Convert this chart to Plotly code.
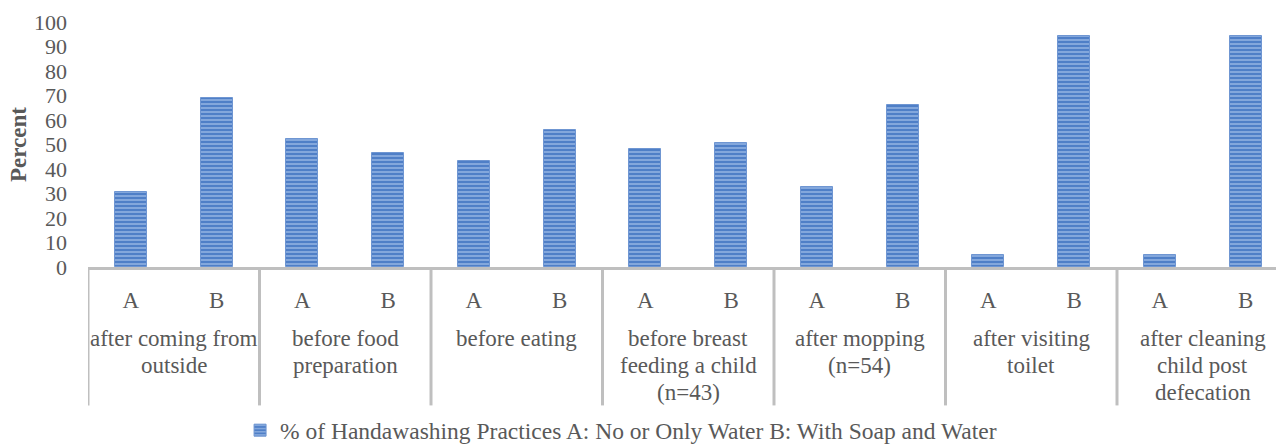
import plotly.graph_objects as go

# Handwashing occasions (outer category level), one entry per text line
occasions = [
    ["after coming from", "outside"],
    ["before food", "preparation"],
    ["before eating"],
    ["before breast", "feeding a child", "(n=43)"],
    ["after mopping", "(n=54)"],
    ["after visiting", "toilet"],
    ["after cleaning", "child post", "defecation"],
]
# Practice codes (inner category level)
practices = ["A", "B"]

# Percent of respondents for each occasion: A (no or only water), B (soap and water)
pct_a = [30.6, 52.3, 43.2, 48.2, 32.6, 5.0, 5.0]
pct_b = [68.9, 46.6, 56.1, 50.8, 66.3, 94.3, 94.3]

y_ticks = list(range(0, 101, 10))
legend_name = "% of Handawashing Practices A: No or Only Water B: With Soap and Water"

FONT = "'Liberation Serif', 'Times New Roman', Times, serif"
TEXT = "#595959"
GRID = "#bfbfbf"

# Interleave A/B values along a categorical index axis
xs, ys, tick_text = [], [], []
for i, (a, b) in enumerate(zip(pct_a, pct_b)):
    for j, v in enumerate((a, b)):
        xs.append(2 * i + j)
        ys.append(v)
        tick_text.append(practices[j])

fig = go.Figure()
fig.add_trace(go.Bar(
    x=xs, y=ys, name=legend_name, width=0.375,
    marker=dict(
        color="#4f7fc7",
        line=dict(color="#6f96d2", width=1),
        pattern=dict(shape="-", fgcolor="#9ab8e6", bgcolor="#4f7fc7",
                     size=4, solidity=0.35, fillmode="replace"),
    ),
    showlegend=True,
))

# Group dividers below the axis line, with the occasion names between them
for i, lines in enumerate(occasions):
    fig.add_shape(type="line", xref="x", yref="paper",
                  x0=2 * i - 0.5, x1=2 * i - 0.5, y0=0, y1=-0.565,
                  line=dict(color=GRID, width=3))
    for k, line in enumerate(lines):
        fig.add_annotation(x=2 * i + 0.5, xref="x", y=-0.29, yref="paper",
                           yanchor="middle", yshift=-27 * k, text=line,
                           showarrow=False, align="center",
                           font=dict(family=FONT, size=23, color=TEXT))

fig.update_layout(
    width=1276, height=446,
    margin=dict(l=88, r=0, t=22, b=179, autoexpand=False),
    paper_bgcolor="white", plot_bgcolor="white",
    font=dict(family=FONT, size=22, color=TEXT),
    bargap=0,
    xaxis=dict(
        range=[-0.5, -0.5 + 1188 / 85.75],
        tickmode="array", tickvals=xs, ticktext=tick_text,
        showline=True, linecolor=GRID, linewidth=3,
        ticks="", showgrid=False, zeroline=False,
        ticklabelstandoff=10,
        tickfont=dict(family=FONT, size=23, color=TEXT),
    ),
    yaxis=dict(
        range=[0, 100], tickvals=y_ticks,
        showgrid=False, zeroline=False, showline=False, ticks="",
        tickfont=dict(family=FONT, size=22, color=TEXT),
        ticklabelstandoff=20,
        title=dict(text="<b>Percent</b>", standoff=0,
                   font=dict(family=FONT, size=23, color=TEXT)),
    ),
    legend=dict(orientation="h", x=0.128, xanchor="left",
                yref="container", y=0.035, yanchor="middle",
                font=dict(family=FONT, size=23.5, color=TEXT),
                itemwidth=30, bgcolor="rgba(0,0,0,0)"),
)

fig.write_html("out.html")
